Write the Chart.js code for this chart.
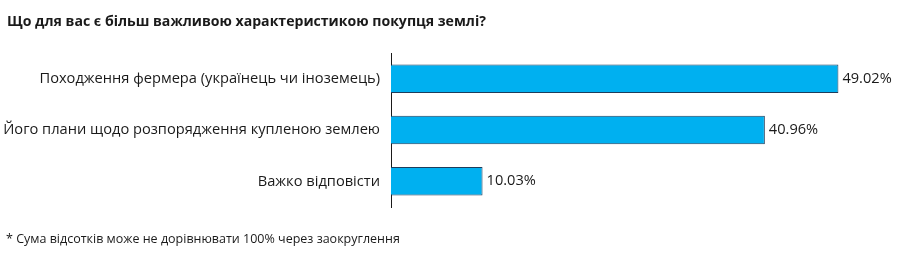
<!DOCTYPE html>
<html><head><meta charset="utf-8">
<script src="https://cdn.jsdelivr.net/npm/chart.js@4/dist/chart.umd.min.js"></script>
<style>
html,body{margin:0;padding:0;background:#fff;}
#wrap{position:relative;width:903px;height:258px;overflow:hidden;}
#title{position:absolute;left:7px;top:14px;font:bold 14.1px "Open Sans";line-height:1;color:#1a1a1a;white-space:nowrap;}
#note{position:absolute;left:6px;top:233px;font:12.5px "Open Sans";line-height:1;color:#1a1a1a;white-space:nowrap;}
canvas{position:absolute;left:0;top:0;}
</style></head>
<body><div id="wrap">
<canvas id="c" width="903" height="258"></canvas>
<div id="title">Що для вас є більш важливою характеристикою покупця землі?</div>
<div id="note">* Сума відсотків може не дорівнювати 100% через заокруглення</div>
</div>
<script>
const categories = [
  'Походження фермера (українець чи іноземець)',
  'Його плани щодо розпорядження купленою землею',
  'Важко відповісти'
];
const values = [49.02, 40.96, 10.03];
const valueLabels = ['49.02%', '40.96%', '10.03%'];

const valueLabelPlugin = {
  id: 'valueLabels',
  afterDatasetsDraw(chart) {
    const ctx = chart.ctx;
    const meta = chart.getDatasetMeta(0);
    ctx.save();
    ctx.font = '14.6px "Open Sans"';
    ctx.fillStyle = '#1a1a1a';
    ctx.textAlign = 'left';
    ctx.textBaseline = 'middle';
    meta.data.forEach((bar, i) => {
      ctx.fillText(valueLabels[i], bar.x + 4, bar.y);
    });
    ctx.restore();
  }
};

new Chart(document.getElementById('c'), {
  type: 'bar',
  data: {
    labels: categories,
    datasets: [{
      data: values,
      backgroundColor: '#00B0F0',
      borderColor: '#1d3d5c',
      borderWidth: 1,
      categoryPercentage: 1,
      barPercentage: 0.555
    }]
  },
  options: {
    indexAxis: 'y',
    responsive: false,
    animation: false,
    events: [],
    layout: { padding: { left: 0, right: 10, top: 53, bottom: 51 } },
    plugins: { legend: { display: false }, tooltip: { enabled: false } },
    scales: {
      x: { display: false, min: 0, max: 55 },
      y: {
        afterFit(scale) { scale.width = 391; },
        grid: { display: false, drawTicks: false },
        border: { display: true, color: '#1a1a1a', width: 1 },
        ticks: { padding: 11, color: '#1a1a1a', font: { family: 'Open Sans', size: 14.65 } }
      }
    }
  },
  plugins: [valueLabelPlugin]
});
</script>
</body></html>
